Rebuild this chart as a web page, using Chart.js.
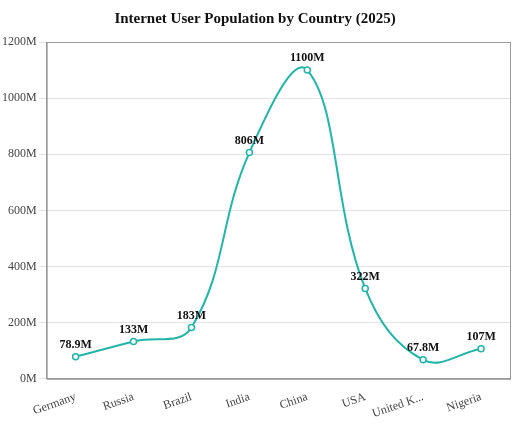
<!DOCTYPE html>
<html><head><meta charset="utf-8">
<script src="https://cdn.jsdelivr.net/npm/chart.js@4"></script>
<style>html,body{margin:0;padding:0;background:#fff}#w{width:522px;height:426px}</style>
</head><body><div id="w"><canvas id="c"></canvas></div>
<script>
const categories = ["Germany","Russia","Brazil","India","China","USA","United K...","Nigeria"];
const values = [78.9,133,183,806,1100,322,67.8,107];
const valueLabels = ["78.9M","133M","183M","806M","1100M","322M","67.8M","107M"];
const color = "#20b5a8";
const labelPlugin = {
  id:"lbl",
  afterDatasetsDraw(chart){
    const ctx=chart.ctx, meta=chart.getDatasetMeta(0);
    ctx.save();ctx.font="bold 12px 'Liberation Serif'";ctx.fillStyle="#111";ctx.textAlign="center";ctx.textBaseline="bottom";
    meta.data.forEach((p,i)=>ctx.fillText(valueLabels[i],p.x,p.y-6));
    ctx.restore();
  }
};
const borderPlugin={id:"bd",afterDraw(chart){const a=chart.chartArea,ctx=chart.ctx;ctx.save();ctx.strokeStyle="#999";ctx.lineWidth=1;ctx.strokeRect(a.left+0.5,a.top+0.5,a.right-a.left,a.bottom-a.top);ctx.restore();}};
Chart.defaults.font.family="'Liberation Serif', serif";
new Chart(document.getElementById("c"),{
  type:"line",
  data:{labels:categories,datasets:[{data:values,borderColor:color,borderWidth:2,tension:0.4,
    pointRadius:3,pointBackgroundColor:"#fff",pointBorderColor:color,pointBorderWidth:1.5,fill:false}]},
  options:{responsive:true,maintainAspectRatio:false,animation:false,
    layout:{padding:{left:0,right:12,top:0,bottom:2}},
    plugins:{legend:{display:false},tooltip:{enabled:false},
      title:{display:true,text:"Internet User Population by Country (2025)",color:"#111",font:{size:15,weight:"bold"},padding:{top:10,bottom:14}}},
    scales:{
      x:{offset:true,grid:{display:false},border:{color:"#999"},ticks:{color:"#444",font:{size:12}}},
      y:{min:0,max:1200,grid:{color:"#e3e3e3"},border:{color:"#999"},
        ticks:{stepSize:200,color:"#444",font:{size:12},padding:2,callback:v=>v+"M"}}
    }},
  plugins:[labelPlugin,borderPlugin]
});
</script></body></html>
